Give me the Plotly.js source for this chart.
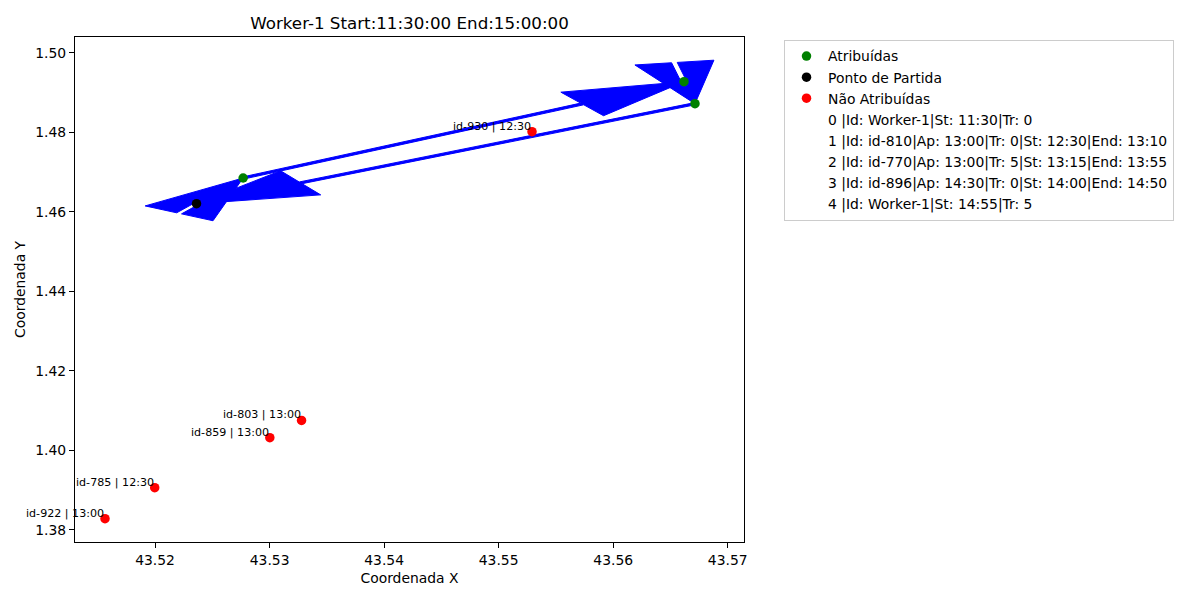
<!DOCTYPE html>
<html>
<head>
<meta charset="utf-8">
<script src="https://cdn.plot.ly/plotly-3.0.1.min.js"></script>
<style>html,body{margin:0;padding:0;background:#fff;}#chart{width:1200px;height:600px;}</style>
</head>
<body>
<div id="chart"></div>
<script>
// Route of Worker-1 (stop 0 = start, stop 4 = return to start)
const routeX = [43.52362, 43.52769, 43.56618, 43.56714, 43.52362];
const routeY = [1.46201, 1.46848, 1.49270, 1.48717, 1.46201];

// Assigned tasks (green)
const assignedX = [43.52769, 43.56618, 43.56714];
const assignedY = [1.46848, 1.49270, 1.48717];

// Starting point (black)
const startX = [43.52362];
const startY = [1.46201];

// Unassigned tasks (red)
const unassignedIds   = ['id-930', 'id-803', 'id-859', 'id-785', 'id-922'];
const unassignedTimes = ['12:30', '13:00', '13:00', '12:30', '13:00'];
const unassignedX = [43.55291, 43.53279, 43.53002, 43.51997, 43.51563];
const unassignedY = [1.48013, 1.40750, 1.40315, 1.39057, 1.38277];

// Route description lines shown in legend
const routeLines = [
  '0 |Id: Worker-1|St: 11:30|Tr: 0',
  '1 |Id: id-810|Ap: 13:00|Tr: 0|St: 12:30|End: 13:10',
  '2 |Id: id-770|Ap: 13:00|Tr: 5|St: 13:15|End: 13:55',
  '3 |Id: id-896|Ap: 14:30|Tr: 0|St: 14:00|End: 14:50',
  '4 |Id: Worker-1|St: 14:55|Tr: 5'
];

const titleText = 'Worker-1 Start:11:30:00 End:15:00:00';

// Arrow style (data units, like matplotlib FancyArrow with length_includes_head)
const ARROW_W = 0.0005, HEAD_W = 0.007, HEAD_L = 0.0105;

function arrowPolygon(x0, y0, x1, y1) {
  const dx = x1 - x0, dy = y1 - y0;
  const L = Math.hypot(dx, dy);
  const cx = dx / L, cy = dy / L;
  const px = -cy, py = cx;
  const local = [[0, 0], [-HEAD_L, -HEAD_W / 2], [-HEAD_L, -ARROW_W / 2], [-L, -ARROW_W / 2],
                 [-L, ARROW_W / 2], [-HEAD_L, ARROW_W / 2], [-HEAD_L, HEAD_W / 2], [0, 0]];
  const xs = [], ys = [];
  local.forEach(([a, b]) => { xs.push(x1 + a * cx + b * px); ys.push(y1 + a * cy + b * py); });
  return {xs, ys};
}

const FONT = 'DejaVu Sans, Verdana, sans-serif';
const traces = [];
for (let i = 0; i < routeX.length - 1; i++) {
  const p = arrowPolygon(routeX[i], routeY[i], routeX[i + 1], routeY[i + 1]);
  traces.push({
    x: p.xs, y: p.ys, type: 'scatter', mode: 'lines', fill: 'toself',
    fillcolor: 'blue', line: {color: 'blue', width: 1, simplify: false},
    showlegend: false, hoverinfo: 'skip'
  });
}
traces.push({x: assignedX, y: assignedY, type: 'scatter', mode: 'markers', name: 'Atribuídas',
  marker: {color: 'green', size: 9.5}});
traces.push({x: startX, y: startY, type: 'scatter', mode: 'markers', name: 'Ponto de Partida',
  marker: {color: 'black', size: 9.5}});
traces.push({x: unassignedX, y: unassignedY, type: 'scatter', mode: 'markers', name: 'Não Atribuídas',
  marker: {color: 'red', size: 9.5}});
routeLines.forEach(t => traces.push({x: [null], y: [null], type: 'scatter', mode: 'markers', name: t,
  marker: {color: 'rgba(0,0,0,0)', size: 1}}));

const annotations = unassignedIds.map((id, i) => ({
  x: unassignedX[i], y: unassignedY[i], xref: 'x', yref: 'y',
  text: id + ' | ' + unassignedTimes[i], showarrow: false,
  xanchor: 'right', yanchor: 'bottom', borderpad: 0, yshift: -2,
  font: {family: FONT, size: 11.1, color: 'black'}
}));

const axisCommon = {
  showgrid: false, zeroline: false, showline: true, mirror: true,
  linecolor: 'black', linewidth: 1.1, ticks: 'outside', ticklen: 5, tickwidth: 1.1,
  tickcolor: 'black', tickfont: {family: FONT, size: 13.9, color: 'black'},
  tickformat: '.2f'
};

const layout = {
  width: 1200, height: 600,
  margin: {l: 75, r: 456, t: 37, b: 58},
  paper_bgcolor: 'white', plot_bgcolor: 'white',
  font: {family: FONT, color: 'black'},
  title: {text: titleText, font: {family: FONT, size: 16.7, color: 'black'},
          x: 0.5, xref: 'paper', y: 1 - 23 / 600, yref: 'container', yanchor: 'middle'},
  xaxis: Object.assign({}, axisCommon, {range: [43.51301, 43.57142], tick0: 43.52, dtick: 0.01,
    title: {text: 'Coordenada X', font: {family: FONT, size: 13.9, color: 'black'}, standoff: 6}}),
  yaxis: Object.assign({}, axisCommon, {range: [1.37691, 1.50395], tick0: 1.38, dtick: 0.02,
    title: {text: 'Coordenada Y', font: {family: FONT, size: 13.9, color: 'black'}, standoff: 6}}),
  showlegend: true,
  legend: {x: 1.0598, y: 0.995, xanchor: 'left', yanchor: 'top', xref: 'paper', yref: 'paper',
           bgcolor: 'white', bordercolor: '#cccccc', borderwidth: 1,
           font: {family: FONT, size: 13.9, color: 'black'}, itemwidth: 33, traceorder: 'normal'},
  annotations: annotations
};

Plotly.newPlot('chart', traces, layout, {displayModeBar: false, staticPlot: true});
</script>
</body>
</html>
